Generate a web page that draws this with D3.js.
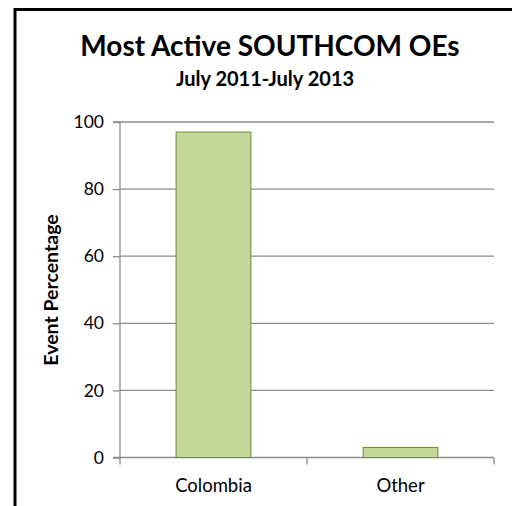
<!DOCTYPE html>
<html><head><meta charset="utf-8">
<script src="https://cdn.jsdelivr.net/npm/d3@7"></script>
<style>
body{margin:0;background:#fff;}
svg{display:block;}
text{font-family:Lato,"Open Sans",sans-serif;fill:#000;}
</style></head>
<body>
<svg id="c" width="512" height="506"></svg>
<script>
const categories = ["Colombia", "Other"];
const values = [97, 3];
const yTicks = [0, 20, 40, 60, 80, 100];
const title = "Most Active SOUTHCOM OEs";
const subtitle = "July 2011-July 2013";
const yTitle = "Event Percentage";

(function(){
const svg = d3.select("#c");
svg.append("rect").attr("width",512).attr("height",506).attr("fill","#fff");
// frame
svg.append("path").attr("d","M15,506 L15,9.5 L512,9.5").attr("fill","none").attr("stroke","#000").attr("stroke-width",3);

const pL = 120, pR = 494, pT = 122, pB = 457.5;
const x = d3.scaleBand().domain(categories).range([pL, pR]).paddingInner(0.6).paddingOuter(0.3);
const y = d3.scaleLinear().domain([0, 100]).range([pB, pT]);

// gridlines
svg.append("g").selectAll("line").data(yTicks.filter(d=>d>0)).join("line")
  .attr("x1", pL).attr("x2", pR).attr("y1", d=>y(d)).attr("y2", d=>y(d))
  .attr("stroke","#8c8c8c").attr("stroke-width",1.3);

// y axis
const ya = svg.append("g").attr("transform",`translate(${pL},0)`)
  .call(d3.axisLeft(y).tickValues(yTicks).tickSize(7).tickPadding(9));
ya.select(".domain").attr("stroke","#8c8c8c").attr("stroke-width",1.3).attr("d",`M-7,${pT}H0V${pB}H-7`);
ya.selectAll(".tick line").attr("stroke","#8c8c8c").attr("stroke-width",1.3);
ya.selectAll(".tick text").attr("font-size",17.5).attr("fill","#000").style("font-family","Lato,sans-serif");

// x axis
const xa = svg.append("g").attr("transform",`translate(0,${pB})`)
  .call(d3.axisBottom(x).tickSize(0).tickPadding(0));
xa.select(".domain").remove();
xa.append("line").attr("x1",pL).attr("x2",pR).attr("stroke","#8c8c8c").attr("stroke-width",1.3);
const bounds = [pL, (pL+pR)/2, pR];
xa.selectAll("line.b").data(bounds).join("line").attr("class","b")
  .attr("x1",d=>d).attr("x2",d=>d).attr("y1",0).attr("y2",7)
  .attr("stroke","#8c8c8c").attr("stroke-width",1.3);
xa.selectAll(".tick text").attr("dy",null).attr("y",34).attr("font-size",18.5).attr("fill","#000").style("font-family","Lato,sans-serif");

// bars
svg.append("g").selectAll("rect").data(values).join("rect")
  .attr("x",(d,i)=>x(categories[i])).attr("width",x.bandwidth())
  .attr("y",d=>y(d)).attr("height",d=>pB-y(d))
  .attr("fill","#c4d79b").attr("stroke","#6f8a3c").attr("stroke-width",1);

// titles
svg.append("text").attr("x",270).attr("y",56).attr("text-anchor","middle")
  .attr("font-size",28).attr("font-weight","bold").text(title);
svg.append("text").attr("x",265).attr("y",86).attr("text-anchor","middle")
  .attr("font-size",20).attr("font-weight","bold").text(subtitle);
svg.append("text").attr("transform","translate(58,290) rotate(-90)").attr("text-anchor","middle")
  .attr("font-size",19.5).attr("font-weight","bold").text(yTitle);
})();
</script>
</body></html>
